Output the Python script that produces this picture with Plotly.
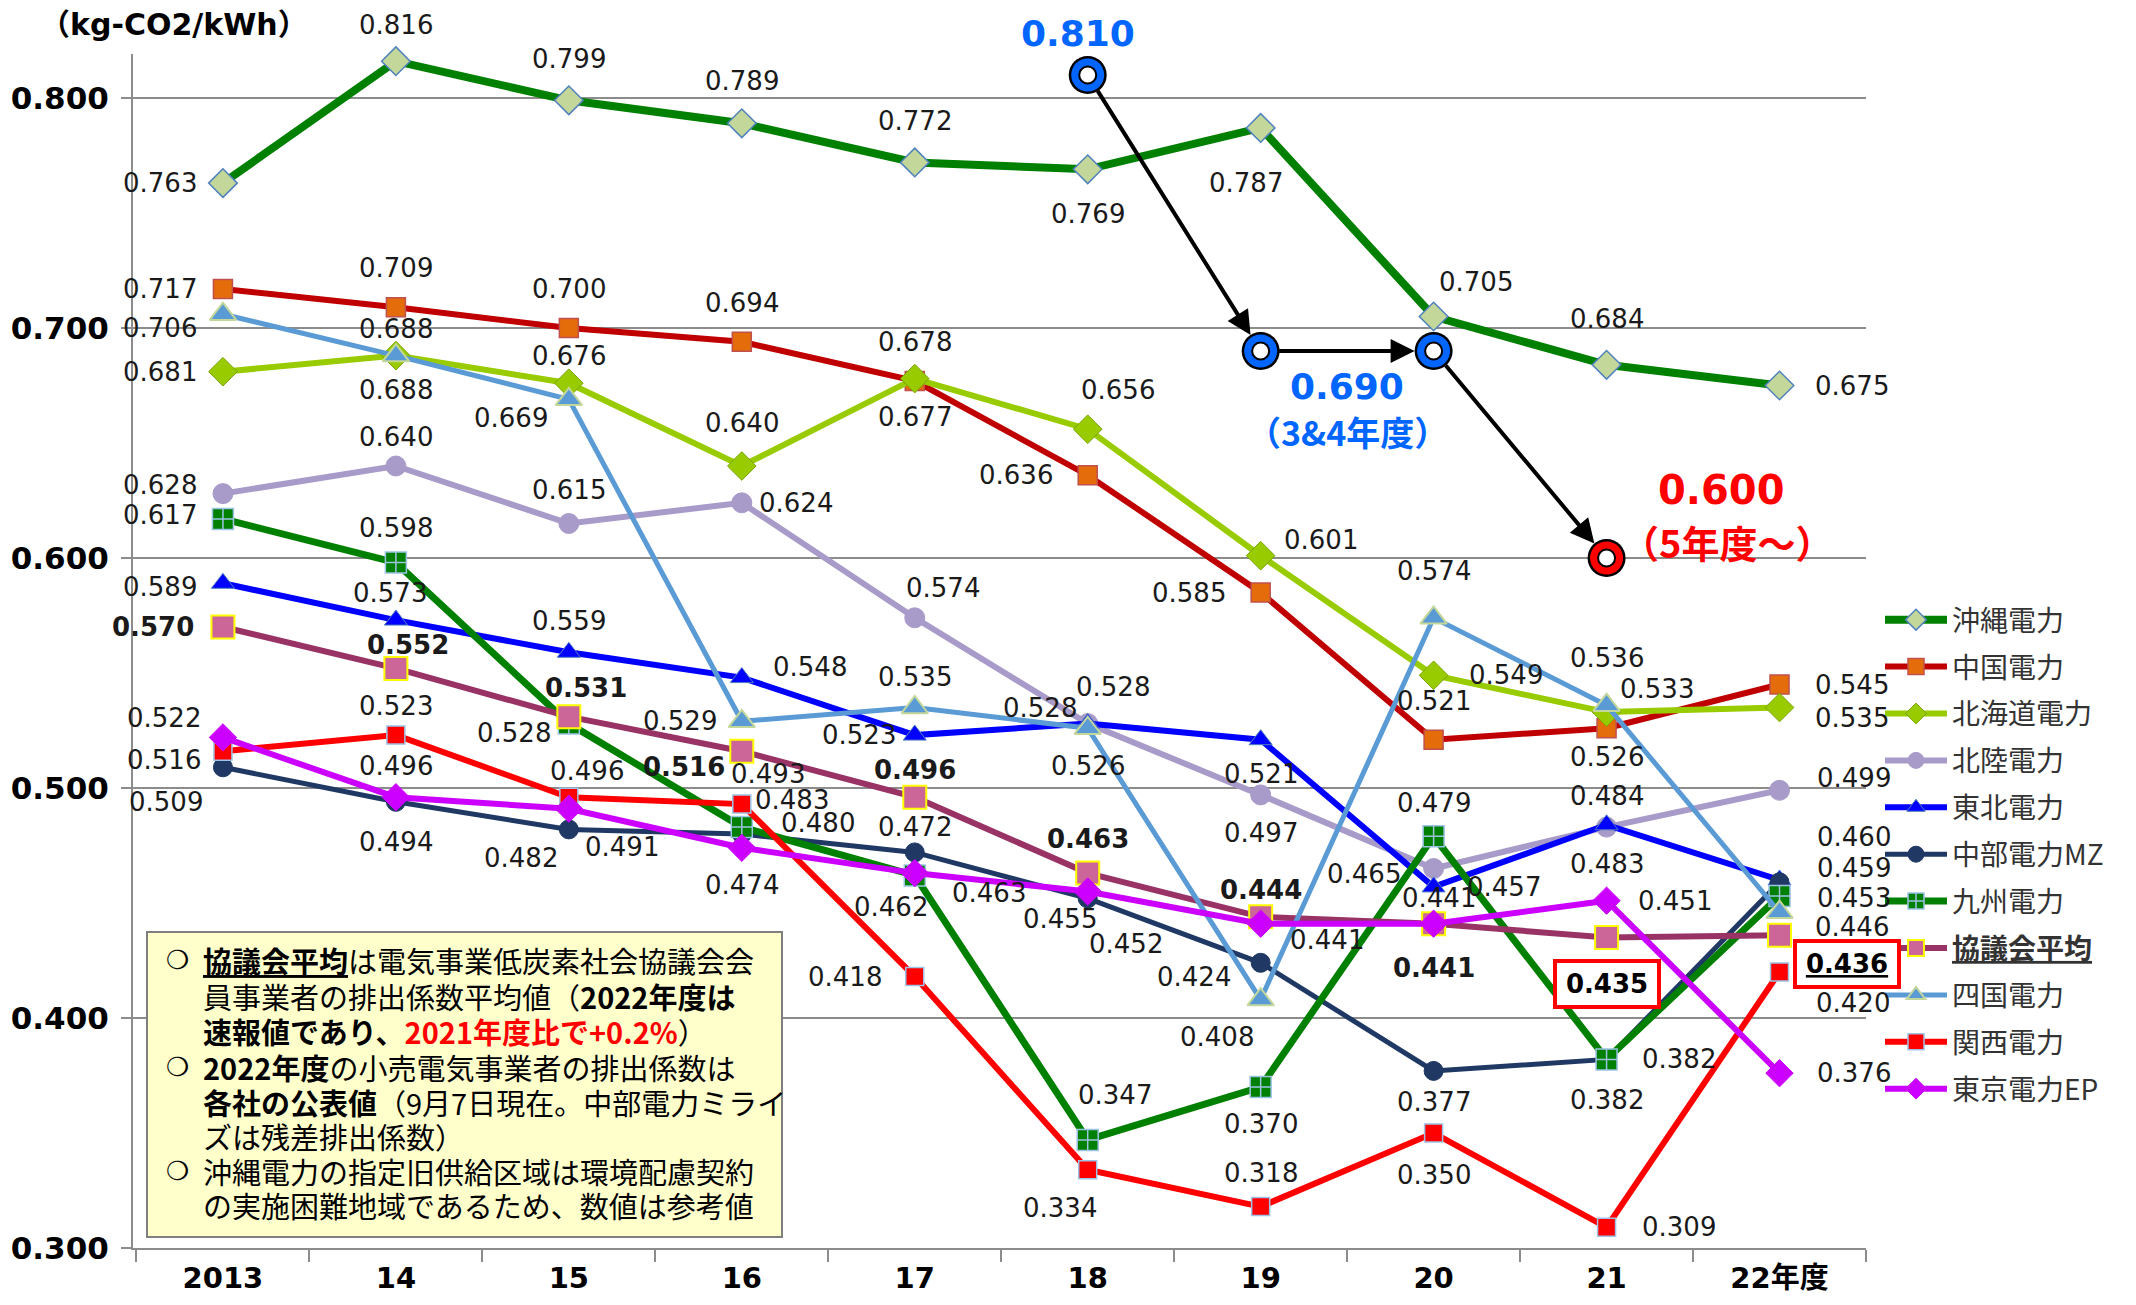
import plotly.graph_objects as go

# ---------------- data ----------------
years = ["2013", "14", "15", "16", "17", "18", "19", "20", "21", "22年度"]

okinawa  = [0.763, 0.816, 0.799, 0.789, 0.772, 0.769, 0.787, 0.705, 0.684, 0.675]
chugoku  = [0.717, 0.709, 0.700, 0.694, 0.677, 0.636, 0.585, 0.521, 0.526, 0.545]
hokkaido = [0.681, 0.688, 0.676, 0.640, 0.678, 0.656, 0.601, 0.549, 0.533, 0.535]
hokuriku = [0.628, 0.640, 0.615, 0.624, 0.574, 0.528, 0.497, 0.465, 0.483, 0.499]
tohoku   = [0.589, 0.573, 0.559, 0.548, 0.523, 0.528, 0.521, 0.457, 0.484, 0.460]
chubu    = [0.509, 0.494, 0.482, 0.480, 0.472, 0.452, 0.424, 0.377, 0.382, 0.459]
kyushu   = [0.617, 0.598, 0.528, 0.483, 0.462, 0.347, 0.370, 0.479, 0.382, 0.453]
council  = [0.570, 0.552, 0.531, 0.516, 0.496, 0.463, 0.444, 0.441, 0.435, 0.436]
shikoku  = [0.706, 0.688, 0.669, 0.529, 0.535, 0.526, 0.408, 0.574, 0.536, 0.446]
kansai   = [0.516, 0.523, 0.496, 0.493, 0.418, 0.334, 0.318, 0.350, 0.309, 0.420]
tokyo    = [0.522, 0.496, 0.491, 0.474, 0.463, 0.455, 0.441, 0.441, 0.451, 0.376]

target_years = ["18", "19", "20", "21"]
target_values = [0.810, 0.690, 0.690, 0.600]
target_notes = ["", "（3&4年度）", "", "（5年度～）"]

y_ticks = [0.3, 0.4, 0.5, 0.6, 0.7, 0.8]
unit_label = "（kg-CO2/kWh）"

# ---------------- styles ----------------
JP = "Noto Sans CJK JP"
NUM = "DejaVu Sans, Noto Sans CJK JP"

series = [
    ("沖縄電力", okinawa, dict(line="#008000", lw=8, sym="diamond", ms=22, fill="#C4D79B", edge="#4F81BD", ew=1.5)),
    ("中国電力", chugoku, dict(line="#C00000", lw=6, sym="square", ms=19, fill="#E46C0A", edge="#C0504D", ew=1.5)),
    ("北海道電力", hokkaido, dict(line="#99CC00", lw=6, sym="diamond", ms=22, fill="#99CC00", edge="#7AA300", ew=1)),
    ("北陸電力", hokuriku, dict(line="#A99BC9", lw=6, sym="circle", ms=20, fill="#A99BC9", edge="#A99BC9", ew=1)),
    ("東北電力", tohoku, dict(line="#0000FF", lw=6, sym="triangle-up", ms=20, fill="#0000FF", edge="#4F81BD", ew=1)),
    ("中部電力MZ", chubu, dict(line="#1F3864", lw=5, sym="circle", ms=19, fill="#1F3864", edge="#1F3864", ew=1)),
    ("九州電力", kyushu, dict(line="#008000", lw=7, sym="square-cross", ms=21, fill="#008000", edge="#9DC3E6", ew=1.5)),
    ("<b><u>協議会平均</u></b>", council, dict(line="#993366", lw=6, sym="square", ms=23, fill="#CC6699", edge="#FFFF00", ew=2, bold=True)),
    ("四国電力", shikoku, dict(line="#5B9BD5", lw=5, sym="triangle-up", ms=23, fill="#5B9BD5", edge="#C4D79B", ew=2)),
    ("関西電力", kansai, dict(line="#FF0000", lw=6, sym="square", ms=18, fill="#FF0000", edge="#9DC3E6", ew=1.5)),
    ("東京電力EP", tokyo, dict(line="#CC00FF", lw=6, sym="diamond", ms=21, fill="#CC00FF", edge="#CC00FF", ew=1)),
]

# label offsets (page px: dx right, dy down) of each value label centre from its point
offsets = [
    [(-63, 0), (0, -36), (0, -41), (0, -42), (0, -41), (0, 45), (-15, 55), (42, -35), (0, -46), (72, 0)],
    [(-63, 0), (0, -39), (0, -39), (0, -39), (0, 36), (-72, 0), (-72, 0), (0, -39), (0, 29), (72, 0)],
    [(-63, 0), (0, 34), (0, -27), (0, -43), (0, -37), (30, -39), (60, -16), (72, 0), (50, -23), (72, 10)],
    [(-63, -9), (0, -29), (0, -34), (54, 0), (28, -30), (-48, -16), (0, 38), (-70, 5), (0, 37), (74, -12)],
    [(-63, 4), (-6, -27), (0, -31), (68, -11), (-56, 0), (25, -37), (0, 34), (70, 0), (0, -29), (74, -43)],
    [(-57, 35), (0, 40), (-48, 29), (76, -11), (0, -25), (38, 46), (-67, 14), (0, 31), (0, 41), (74, -14)],
    [(-63, -4), (0, -35), (-55, 9), (50, -27), (-24, 32), (27, -45), (0, 37), (0, -33), (72, 0), (74, 2)],
    [(-70, 0), (12, -23), (17, -29), (-58, 16), (0, -27), (0, -34), (0, -27), (0, 44), None, None],
    [(-63, 14), (0, -27), (-58, 19), (-62, 0), (0, -31), (0, 38), (-44, 37), (0, -47), (0, -47), (72, 15)],
    [(-59, 9), (0, -29), (18, -26), (26, -30), (-70, 0), (-28, 38), (0, -34), (0, 42), (72, 0), (73, 31)],
    [(-59, -19), (0, -31), (53, 38), (0, 37), (74, 20), (-28, 27), (66, 16), (5, -26), (68, 0), (74, 0)],
]
# boxed labels for the council average (index, dx, dy, underline)
boxed = [(8, 0, 46, False), (9, 67, 29, True)]

# ---------------- geometry (page px -> figure px) ----------------
W, H = 2120, 1289
OFF = 8


def fx(xp):
    return xp - OFF


def fy(yp):
    return yp - OFF


L, R = fx(133), fx(1866)
T = fy(54)
Y8, Y3 = fy(98), fy(1248)
PPU = (Y3 - Y8) / 0.5
B = Y3
YTOP = 0.8 + (Y8 - T) / PPU


def px(xp):
    return (fx(xp) - L) / (R - L)


def py(yp):
    return (B - fy(yp)) / (B - T)


fig = go.Figure()

for name, vals, st in series:
    fig.add_trace(go.Scatter(
        x=years, y=vals, name=name, mode="lines+markers", legendgroup=name,
        line=dict(color=st["line"], width=st["lw"]),
        marker=dict(symbol=st["sym"], size=st["ms"], color=st["fill"],
                    line=dict(color=st["edge"], width=st["ew"])),
        cliponaxis=False, hoverinfo="x+y+name"))

# value labels
for (name, vals, st), offs in zip(series, offsets):
    for i, (v, o) in enumerate(zip(vals, offs)):
        if o is None:
            continue
        txt = f"{v:.3f}"
        if st.get("bold"):
            txt = f"<b>{txt}</b>"
        fig.add_annotation(x=i, y=v, text=txt, showarrow=False,
                           xshift=o[0], yshift=-o[1], xanchor="center", yanchor="middle",
                           font=dict(family=NUM, size=26, color="#1a1a1a"))

for i, dx, dy, und in boxed:
    txt = f"{council[i]:.3f}"
    txt = f"<u>{txt}</u>" if und else txt
    fig.add_annotation(x=i, y=council[i], text=f"<b>{txt}</b>", showarrow=False,
                       xshift=dx, yshift=-dy, xanchor="center", yanchor="middle",
                       width=96, height=38, borderpad=2,
                       bordercolor="#FF0000", borderwidth=4, bgcolor="white",
                       font=dict(family=NUM, size=26, color="black"))

# target path
tcols = ["#0066FF", "#0066FF", "#0066FF", "#FF0000"]
fig.add_trace(go.Scatter(x=target_years, y=target_values, mode="markers", showlegend=False,
                         marker=dict(size=38, color="black"), cliponaxis=False, hoverinfo="skip"))
fig.add_trace(go.Scatter(x=target_years, y=target_values, mode="markers", showlegend=False,
                         marker=dict(size=33, color=tcols), cliponaxis=False, hoverinfo="skip"))
fig.add_trace(go.Scatter(x=target_years, y=target_values, mode="markers", showlegend=False,
                         marker=dict(size=17, color="white", line=dict(color="black", width=2)),
                         cliponaxis=False, hoverinfo="skip"))

tidx = [years.index(t) for t in target_years]
for k in range(len(tidx) - 1):
    fig.add_annotation(x=tidx[k + 1], y=target_values[k + 1], ax=tidx[k], ay=target_values[k],
                       xref="x", yref="y", axref="x", ayref="y", text="", showarrow=True,
                       arrowhead=2, arrowsize=1.2, arrowwidth=4, arrowcolor="black",
                       standoff=19, startstandoff=17)

fig.add_annotation(x=tidx[0], y=target_values[0], text=f"<b>{target_values[0]:.3f}</b>",
                   showarrow=False, xshift=-10, yshift=42, font=dict(family=NUM, size=36, color=tcols[0]))
fig.add_annotation(x=(tidx[1] + tidx[2]) / 2, y=target_values[1], text=f"<b>{target_values[1]:.3f}</b>",
                   showarrow=False, yshift=-35, font=dict(family=NUM, size=36, color=tcols[1]))
fig.add_annotation(x=(tidx[1] + tidx[2]) / 2, y=target_values[1], text=f"<b>{target_notes[1]}</b>",
                   showarrow=False, yshift=-80, font=dict(family=JP, size=34, color=tcols[1]))
fig.add_annotation(x=tidx[3], y=target_values[3], text=f"<b>{target_values[3]:.3f}</b>",
                   showarrow=False, xshift=115, yshift=68, font=dict(family=NUM, size=40, color=tcols[3]))
fig.add_annotation(x=tidx[3], y=target_values[3], text=f"<b>{target_notes[3]}</b>",
                   showarrow=False, xshift=120, yshift=17, font=dict(family=JP, size=38, color=tcols[3]))

# unit label
fig.add_annotation(xref="paper", yref="paper", x=px(38), y=py(25), xanchor="left", yanchor="middle",
                   text=f"<b>{unit_label}</b>", showarrow=False,
                   font=dict(family=NUM, size=30, color="black"))

# note box
fig.add_shape(type="rect", xref="paper", yref="paper", x0=px(147), x1=px(782), y0=py(1237), y1=py(932),
              fillcolor="#FFFFCC", line=dict(color="#7F7F7F", width=2), layer="above")
note_lines = [
    (960, True, "<b><u>協議会平均</u></b>は電気事業低炭素社会協議会会"),
    (996, False, "員事業者の排出係数平均値（<b>2022年度は</b>"),
    (1031, False, "<b>速報値であり、<span style='color:#FF0000'>2021年度比で+0.2%</span></b>）"),
    (1067, True, "<b>2022年度</b>の小売電気事業者の排出係数は"),
    (1102, False, "<b>各社の公表値</b>（9月7日現在。中部電力ミライ"),
    (1136, False, "ズは残差排出係数）"),
    (1171, True, "沖縄電力の指定旧供給区域は環境配慮契約"),
    (1205, False, "の実施困難地域であるため、数値は参考値"),
]
for yl, bullet, txt in note_lines:
    if bullet:
        fig.add_annotation(xref="paper", yref="paper", x=px(177), y=py(yl), text="❍", showarrow=False,
                           xanchor="center", yanchor="middle", font=dict(family="DejaVu Sans", size=26, color="black"))
    fig.add_annotation(xref="paper", yref="paper", x=px(201), y=py(yl), text=txt, showarrow=False,
                       xanchor="left", yanchor="middle", font=dict(family=JP, size=29, color="black"))

fig.update_layout(
    width=W, height=H, autosize=False,
    margin=dict(l=L, r=W - R, t=T, b=H - B, pad=0, autoexpand=False),
    paper_bgcolor="white", plot_bgcolor="white",
    showlegend=True,
    legend=dict(x=px(1880), y=py(595), xanchor="left", yanchor="top",
                font=dict(family=JP, size=28, color="#333333"),
                itemwidth=62, tracegroupgap=7.5, bgcolor="rgba(0,0,0,0)"),
    xaxis=dict(type="category", categoryorder="array", categoryarray=years,
               range=[-0.52, 9.5], showgrid=False, zeroline=False, automargin=False,
               showline=True, linecolor="#8C8C8C", linewidth=2,
               ticks="outside", tickson="boundaries", ticklen=12, tickwidth=2, tickcolor="#8C8C8C",
               tickfont=dict(family=NUM, size=29, color="black", weight="bold"),
               ticklabelstandoff=3),
    yaxis=dict(range=[0.3, YTOP], tickvals=y_ticks, ticktext=[f"{v:.3f}" for v in y_ticks],
               showgrid=True, gridcolor="#8C8C8C", gridwidth=2, zeroline=False, automargin=False,
               showline=True, linecolor="#8C8C8C", linewidth=2,
               ticks="outside", ticklen=10, tickwidth=2, tickcolor="#8C8C8C",
               tickfont=dict(family=NUM, size=31, color="black", weight="bold"),
               ticklabelstandoff=6),
)

fig.write_html("out.html")
